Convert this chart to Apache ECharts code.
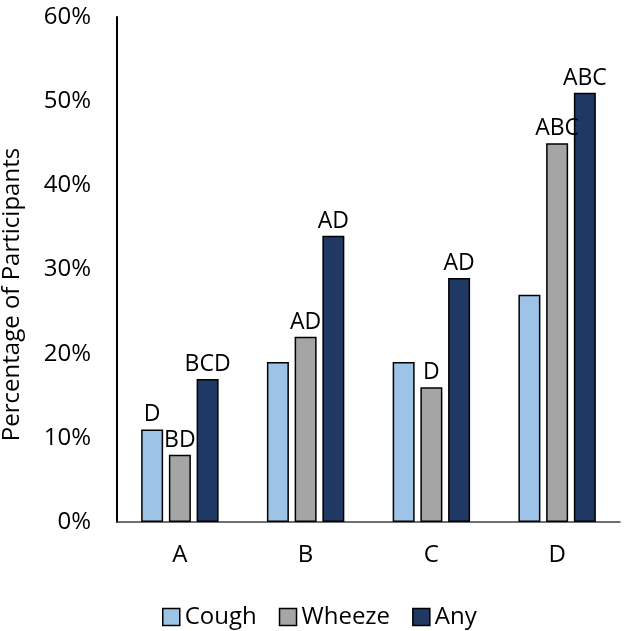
<!DOCTYPE html>
<html><head><meta charset="utf-8">
<script src="https://cdn.jsdelivr.net/npm/echarts@6/dist/echarts.min.js"></script>
<style>html,body{margin:0;padding:0;background:#fff}#c{width:625px;height:631px}</style>
</head><body><div id="c"></div>
<script>
const categories = ['A','B','C','D'];
const cough = [11, 19, 19, 27];
const wheeze = [8, 22, 16, 45];
const anyS = [17, 34, 29, 51];
const coughLabels = ['D', '', '', ''];
const wheezeLabels = ['BD', 'AD', 'D', 'ABC'];
const anyLabels = ['BCD', 'AD', 'AD', 'ABC'];
const yTicks = [0,10,20,30,40,50,60];

const FONT = '"Open Sans", "Noto Sans", sans-serif';
function mk(name, data, labels, color){
  return {
    name, type:'bar', data,
    barWidth: 22, barGap: '26%',
    itemStyle:{color, borderColor:'#000', borderWidth:1.5},
    label:{show:true, position:'top', distance:3, color:'#000', fontSize:23, fontFamily:FONT,
      formatter: p => labels[p.dataIndex]}
  };
}
const chart = echarts.init(document.getElementById('c'));
chart.setOption({
  animation:false,
  grid:{left:117, right:5, top:17, bottom:109, outerBoundsMode:'none', containLabel:false},
  legend:{top:600, left:157, icon:'rect', itemWidth:17, itemHeight:17, itemGap:22,
    textStyle:{fontSize:24, fontFamily:FONT, color:'#000'},
    itemStyle:{borderColor:'#000', borderWidth:1.5},
    data:['Cough','Wheeze','Any']},
  xAxis:{type:'category', data:categories,
    axisLine:{lineStyle:{color:'#404040', width:1.5}}, axisTick:{show:false},
    axisLabel:{fontSize:24, fontFamily:FONT, color:'#000', margin:21}},
  yAxis:{type:'value', min:0, max:60, interval:10,
    name:'Percentage of Participants', nameLocation:'middle', nameGap:93,
    nameTextStyle:{fontSize:24, fontFamily:FONT, color:'#000', padding:[0,50,0,0]},
    axisLine:{show:true, lineStyle:{color:'#000', width:2}}, axisTick:{show:false},
    splitLine:{show:false},
    axisLabel:{fontSize:24, fontFamily:FONT, color:'#000', margin:26,
      formatter: v => yTicks.includes(v) ? v + '%' : ''}},
  series:[
    mk('Cough', cough, coughLabels, '#9DC3E6'),
    mk('Wheeze', wheeze, wheezeLabels, '#A5A5A5'),
    mk('Any', anyS, anyLabels, '#203864')
  ]
});
</script></body></html>
